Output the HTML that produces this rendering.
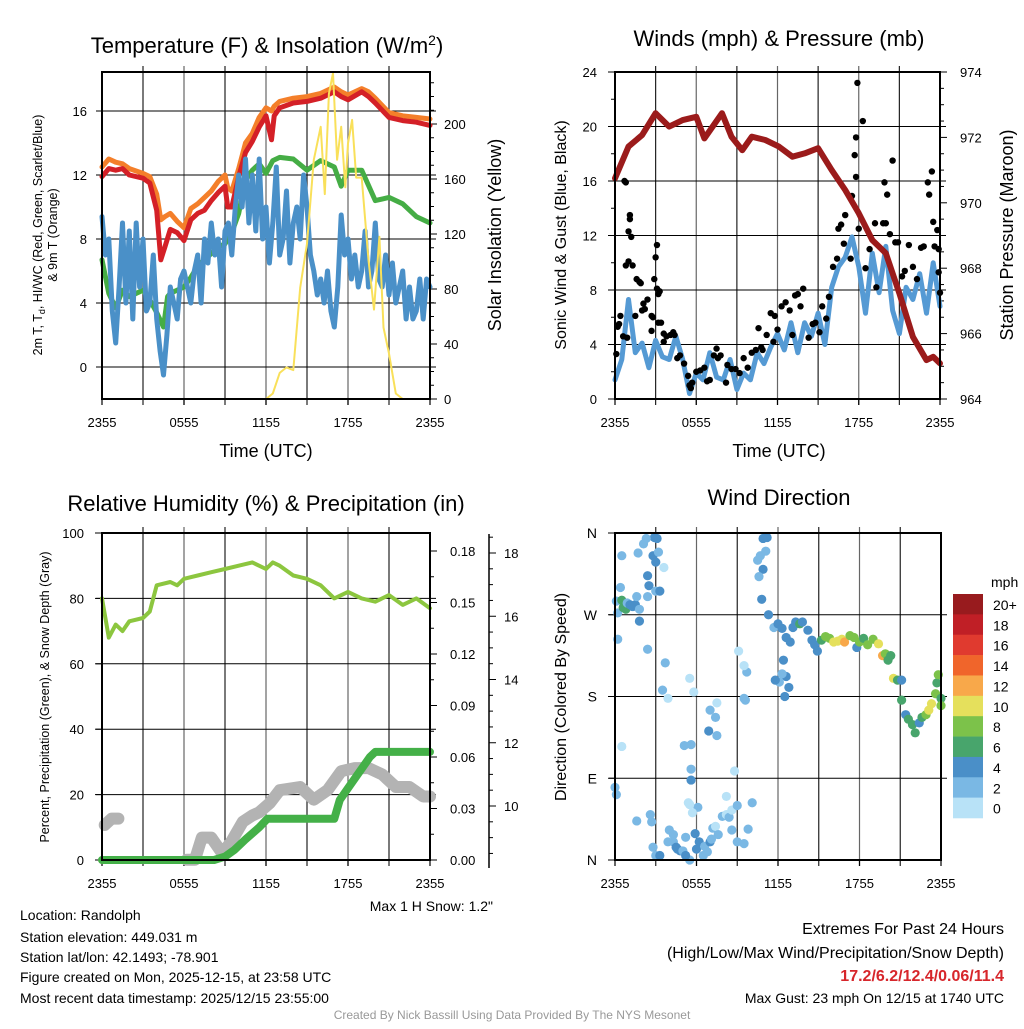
<!DOCTYPE html>
<html><head><meta charset="utf-8">
<style>
html,body{margin:0;padding:0;background:#fff;}
svg text{font-family:"Liberation Sans",Arial,sans-serif;fill:#000;}
</style></head>
<body>
<svg id="chart" xmlns="http://www.w3.org/2000/svg" width="1024" height="1024" viewBox="0 0 1024 1024">
<rect width="1024" height="1024" fill="#fff"/>
<g id="layer"></g>
<g font-size="14">
<text x="20" y="920">Location: Randolph</text>
<text x="20" y="942">Station elevation: 449.031 m</text>
<text x="20" y="962">Station lat/lon: 42.1493; -78.901</text>
<text x="20" y="982">Figure created on Mon, 2025-12-15, at 23:58 UTC</text>
<text x="20" y="1003">Most recent data timestamp: 2025/12/15 23:55:00</text>
<text x="1004" y="934" text-anchor="end" font-size="16">Extremes For Past 24 Hours</text>
<text x="1004" y="958" text-anchor="end" font-size="16">(High/Low/Max Wind/Precipitation/Snow Depth)</text>
<text x="1004" y="981" text-anchor="end" font-size="16" font-weight="bold" style="fill:#d7262b">17.2/6.2/12.4/0.06/11.4</text>
<text x="1004" y="1003" text-anchor="end">Max Gust: 23 mph On 12/15 at 1740 UTC</text>
<text x="512" y="1019" text-anchor="middle" font-size="12" style="fill:#999">Created By Nick Bassill Using Data Provided By The NYS Mesonet</text>
<text x="493" y="911" text-anchor="end" font-size="14">Max 1 H Snow: 1.2"</text>
</g>
</svg>
<script>
// ---------- DATA ----------
const xTickLabels = ["2355","0555","1155","1755","2355"];
const tempHours = [0,0.5,1,1.5,2,3,3.5,4,4.3,4.6,5,5.5,6,6.5,7,7.5,8,8.5,9,9.2,9.5,10,10.5,11,11.5,12,12.4,12.6,13,14,15,16,17,17.5,18,19,19.5,20,21,22,23,24];
const redTemp = [11.9,12.4,12.3,12.4,12.0,11.8,11.5,9.8,6.7,7.5,8.6,8.4,7.9,9.2,9.6,9.8,10.4,10.9,11.3,10.0,10.0,11.9,13.4,14.1,15.0,15.7,14.2,15.7,16.2,16.5,16.6,16.8,17.2,16.9,16.7,17.2,16.9,16.5,15.6,15.4,15.3,15.1];
const orangeTemp = [12.5,13.0,12.8,12.7,12.4,12.1,11.9,10.8,9.2,9.4,9.6,9.1,8.7,9.9,10.2,10.6,11.0,11.6,12.0,11.2,11.0,12.4,14.0,14.6,15.6,16.2,16.0,16.3,16.6,16.8,16.9,17.1,17.5,17.2,17.0,17.4,17.2,16.8,15.9,15.7,15.6,15.5];
const greenHours = [0,0.5,1,1.5,2,3,3.5,4,4.5,4.8,5,6,6.5,7,7.5,8,8.5,9,9.5,10,10.5,11,11.5,12,12.5,13,14,15,16,17,17.5,18,19,20,21,22,23,24];
const greenTemp = [6.7,4.6,3.7,4.8,4.4,4.8,4.2,3.4,2.5,4.4,4.6,5.0,5.6,6.3,6.7,7.1,7.5,7.7,8.4,9.6,11.7,12.3,12.7,12.1,12.9,13.1,13.0,12.3,12.9,12.5,11.3,12.3,12.3,10.4,10.6,10.2,9.4,9.0];
const blueTemp = [9.4,7,8,3.5, 1.5,5,9,4, 8.5,3,9,5, 8,3.5,4,7, 3,1,-0.5,2, 5,4,3,5.5, 6,5,4,6, 7,4,8,6.5, 9,7,8,5, 8.5,9,7,10, 12,10,13,9, 12,8.5,13,8, 10,6.5,9,12.5, 7,8,11,6.5, 9,10,8,12, 10,7,6,4.5, 5.5,4,6,3.5, 2.5,5,9.5,7, 8,5.5,7,5, 6,8.5,5,6, 9,5.5,5,7, 4.5,6.5,4,5, 6,3,5,3, 3.5,5.5,3,5.5, 5];
const solarHours = [0,12,12.5,13,13.5,14,14.5,15,15.5,16,16.3,16.6,16.9,17.2,17.5,17.8,18,18.3,18.6,19,19.5,19.9,20.3,20.6,21,21.5,22,24];
const solarValues = [0,0,4,19,23,21,81,113,174,198,149,222,237,174,198,154,186,203,161,161,101,65,118,52,33,4,0,0];

const pressHours = [0,1,2,3,4,5,6,6.6,7.9,8.6,9.4,10.1,11.1,12.1,13.1,14,15,16,17,18,19,20,21,22,23,23.5,24];
const pressValues = [970.75,971.72,972.07,972.74,972.33,972.53,972.63,971.97,972.74,972.02,971.61,972.02,971.92,971.72,971.41,971.51,971.67,971.0,970.39,969.68,968.86,968.46,967.23,965.9,965.19,965.29,965.09];
const windSpeed = [1.4,2.9,7.3,3.4,4.1,2.3,4.3,3.1,2.9,4.6,2.9,0.4,1.9,1.4,3.4,1.6,1.4,2.9,0.7,1.9,1.4,3.4,2.6,3.8,4.8,3.6,5.6,3.4,5.6,4.6,6.3,4.0,8.2,9.7,10.4,11.9,9.7,6.3,10.7,7.8,11.2,6.5,4.8,8.2,7.3,9.2,6.3,10.0,6.8];
const gustHours = [0.1,0.2,0.3,0.4,0.7,0.8,0.6,0.9,1.0,1.1,1.1,1.2,0.8,1.0,1.3,1.5,1.6,1.8,1.9,2.0,2.1,2.2,2.4,2.7,2.8,2.7,2.9,3.0,3.1,3.1,3.2,3.3,3.2,3.4,3.6,3.6,3.8,4.1,4.3,4.4,4.6,4.8,5.1,5.4,5.5,5.6,5.7,6.0,6.3,6.6,6.8,7.0,7.3,7.5,7.6,7.8,8.2,8.3,8.6,8.9,9.2,9.5,9.8,10.1,10.4,10.6,10.8,10.9,11.2,11.5,11.7,11.8,12.0,12.3,12.6,12.9,13.1,13.3,13.5,13.7,13.9,14.3,14.6,14.8,15.1,15.3,15.6,15.8,16.1,16.4,16.5,16.7,16.9,17.0,17.4,17.5,17.7,17.8,17.8,17.9,18.0,18.3,18.5,18.8,19.2,19.3,19.8,20.0,19.9,20.1,20.3,20.5,20.7,20.9,21.2,21.4,21.7,22.0,22.3,22.6,22.8,23.1,23.2,23.4,23.5,23.6,23.8,23.9,23.9,24.0];
const gustValues = [3.3,5.3,5.5,6.1,16,15.9,4.6,4.5,12.3,13.2,13.5,11.9,9.8,10.1,9.8,6.1,8.8,8.6,8.5,6.5,7.0,6.6,7.3,6.1,6.0,5.0,8.8,10.4,11.3,8.1,7.7,7.9,5.6,5.6,4.2,4.8,4.6,4.7,4.9,4.7,3.0,3.2,2.6,1.7,1.0,0.8,1.2,2.0,2.1,2.3,1.3,1.4,3.2,3.7,3.0,3.2,1.2,2.5,2.2,2.2,1.9,3.0,2.3,3.4,3.6,5.2,3.8,3.6,4.7,6.3,4.2,6.1,5.1,6.8,7.1,6.5,4.7,7.6,7.7,6.8,8.1,4.5,5.5,5.6,4.9,6.8,5.9,7.5,9.7,10.3,12.5,12.8,11.4,13.5,10.3,14.9,17.9,19.2,16.3,23.2,12.5,20.4,9.6,11.0,12.9,8.2,12.9,12.9,15.9,15.0,12.1,17.5,11.5,11.5,9.0,9.4,11.3,9.7,8.8,11.1,11.2,15.9,15.0,16.7,13.0,11.2,12.4,9.3,11.0,7.8];

const rhHours = [0,0.5,1,1.5,2,3,3.5,4,5,5.5,6,7,8,9,10,11,12,12.5,13,14,15,16,17,18,19,20,21,22,23,24];
const rhValues = [80,68,72,70,73,74,76,84,85,84,86,87,88,89,90,91,89,91,90,87,86,84,80,82,80,79,81,78,80,77];
const precipHours = [0,8.2,9.0,9.7,10.5,11.5,12.1,17.0,17.4,18.1,18.9,19.6,20.0,24];
const precipValues = [0,0,0.002,0.006,0.012,0.019,0.024,0.024,0.035,0.043,0.052,0.060,0.063,0.063];
const snowSeg1Hours = [0.2,0.7,1.2];
const snowSeg1Values = [9.4,9.6,9.6];
const snowSeg2Hours = [6.2,6.8,7.3,8.0,8.8,9.5,10.3,11.0,11.5,12.3,13.0,14.5,15.5,16.5,17.5,18.5,19.5,20.5,21.5,22.5,23.5,24];
const snowSeg2Values = [8.3,8.3,9.0,9.0,8.5,8.9,9.5,9.7,9.8,10.1,10.5,10.6,10.2,10.5,11.1,11.2,11.2,11.0,10.6,10.6,10.3,10.3];

const dirHours = [0.1,0.2,0.4,0.5,0.6,0.8,0.9,1.1,1.3,1.5,1.6,1.8,2.4,1.8,0.2,0.5,1.7,2.8,3.0,3.2,2.9,3.1,2.3,2.1,2.4,2.5,3.0,3.3,3.6,2.4,3.7,0.5,0,0.1,1.6,2.6,2.7,2.8,3.0,3.3,4.0,4.3,4.5,4.6,4.8,5.0,5.2,5.5,5.2,3.9,4.3,5.9,6.0,6.2,6.5,6.6,6.8,7.0,7.2,7.4,7.6,7.9,8.2,8.4,8.6,8.6,9.0,9.8,9.5,9.0,10.1,7.1,6.1,5.7,5.4,5.5,5.6,5.1,5.6,5.6,8.8,8.2,7.0,7.5,7.4,7.5,6.9,9.1,9.5,9.6,3.5,3.9,5.5,5.8,10.5,10.7,10.9,11.2,11.1,10.9,10.6,10.8,11.3,11.7,12.0,12.3,12.6,12.9,13.1,13.3,13.6,13.8,14.2,14.5,14.7,14.9,15.2,15.5,15.8,16.1,16.4,16.7,16.9,17.3,17.6,17.8,18.0,18.3,18.6,19.0,19.4,19.7,19.9,20.1,20.3,20.5,20.8,21.1,21.1,21.4,21.6,21.9,22.1,22.4,22.6,22.9,23.1,23.3,23.6,23.7,23.8,24,24,12.4,12.8,12.6,12.5,12.1,12.3,11.8,9.7,9.5];
const dirDegrees = [285,272,300,286,278,276,283,281,279,281,290,276,290,263,243,335,338,335,328,339,355,354,354,348,313,302,296,296,322,232,217,125,80,72,43,50,42,14,5,5,33,20,14,12,10,10,25,0,5,20,28,29,12,20,5,15,9,20,35,37,28,48,50,47,55,33,60,34,18,20,63,23,58,52,63,61,127,126,88,100,98,70,165,173,157,137,142,230,178,176,187,178,200,185,330,335,354,355,340,320,312,287,270,256,260,255,245,240,256,262,260,262,253,242,237,230,242,246,244,240,241,243,240,247,245,234,240,244,237,243,238,225,227,220,225,200,198,198,176,160,155,149,140,151,157,160,165,172,183,195,204,178,170,220,190,202,180,196,205,198,207,214];
const dirSpeeds = [3,3,3,6,6,6,3,4,4,4,3,3,3,5,3,3,3,5,5,3,5,5,2,3,5,5,3,5,1,3,2,1,2,3,3,3,3,3,3,4,3,3,4,5,5,3,2,2,4,3,3,4,5,4,3,2,3,4,3,1,2,3,1,3,1,3,3,2,3,3,3,2,3,1,1,1,3,2,4,3,1,1,2,1,2,3,4,1,2,2,2,1,1,1,3,3,4,4,3,5,3,5,4,3,4,4,5,4,4,4,6,4,4,4,4,4,6,8,8,10,10,10,13,8,8,4,8,6,8,8,10,12,8,6,6,10,6,4,6,4,6,6,6,4,6,8,10,10,8,6,8,6,8,5,4,5,5,3,3,5,3,1];
const legendLabels = ["20+","18","16","14","12","10","8","6","4","2","0"];
const speedColors = ["#981b1e","#c01f26","#e03a2f","#f0652b","#f8a84a","#e5e05c","#7cc24a","#48a56c","#4a8fc8","#7ab8e4","#b8e2f7"];

// ---------- DRAWING ----------
const NS = "http://www.w3.org/2000/svg";
const layer = document.getElementById("layer");
function mk(tag, attrs, parent){ const e=document.createElementNS(NS,tag); for(const k in attrs) e.setAttribute(k,attrs[k]); (parent||layer).appendChild(e); return e; }
function scale(d0,d1,r0,r1){ return v => r0 + (v-d0)*(r1-r0)/(d1-d0); }
function pathOf(xs, ys, sx, sy){ return xs.map((x,i)=>(i?"L":"M")+sx(x).toFixed(1)+","+sy(ys[i]).toFixed(1)).join(""); }

function frame(x0,y0,x1,y1,name){
  const g = mk("g",{});
  
  
  for(let h=3; h<24; h+=3){
    const x = x0 + (x1-x0)*h/24;
    const l = mk("line",{x1:x,x2:x,y1:y0-6,y2:y1+6,stroke:(h%6===0?"#666":"#222"),"stroke-width":1.2},g);
    
    
  }
  xTickLabels.forEach((t,i)=>{
    const x = x0 + (x1-x0)*i/4;
    mk("line",{x1:x,x2:x,y1:y1,y2:y1+6,stroke:"#000","stroke-width":1.2},g);
    const tx = mk("text",{x:x,y:y1+28,"text-anchor":"middle","font-size":13},g);
    tx.textContent = t;
    
    
  });
  return g;
}
function hgrid(g,x0,x1,y){ const l=mk("line",{x1:x0-6,x2:x1+6,y1:y,y2:y,stroke:"#000","stroke-width":1},g);
  
   }
function border(g,x0,y0,x1,y1){ const r=mk("rect",{x:x0,y:y0,width:x1-x0,height:y1-y0,fill:"none",stroke:"#000","stroke-width":2},g);
  
   }
function label(g,x,y,txt,size,anchor,rot,name){
  const t = mk("text",{x:x,y:y,"font-size":size,"text-anchor":anchor||"middle"},g);
  if(rot) t.setAttribute("transform","rotate("+rot+" "+x+" "+y+")");
  t.textContent = txt;
  
  
  return t;
}
function series(g,d,color,w,name,extra){
  const p = mk("path",Object.assign({d:d,fill:"none",stroke:color,"stroke-width":w,"stroke-linejoin":"round","stroke-linecap":"round"},extra||{}),g);
  
  
  return p;
}

// ===== Panel 1 =====
(function(){
  const X0=102,X1=430,Y0=72,Y1=399;
  const sx = scale(0,24,X0,X1);
  const sy = scale(0,16,367,111);
  const sr = scale(0,200,399,124);
  const g = frame(X0,Y0,X1,Y1,"temperature-panel");
  [0,4,8,12,16].forEach(v=>{ hgrid(g,X0,X1,sy(v)); label(g,X0-15,sy(v)+5,String(v),13,"end",0,"y-tick-label"); });
  for(let v=0; v<=230; v+=10){ const y=sr(v); mk("line",{x1:X1,x2:X1+(v%40===0?7:4),y1:y,y2:y,stroke:"#000","stroke-width":1},g); }
  [0,40,80,120,160,200].forEach(v=>label(g,X1+14,sr(v)+5,String(v),13,"start",0,"right-tick-label"));
  const bh = blueTemp.map((_,i)=>i*0.25);
  series(g,pathOf(tempHours,orangeTemp,sx,sy),"#f47f2a",5,"orange-9m-temp-line");
  series(g,pathOf(tempHours,redTemp,sx,sy),"#d42027",5,"red-2m-temp-line");
  series(g,pathOf(greenHours,greenTemp,sx,sy),"#45ad45",5,"green-dewpoint-line");
  series(g,pathOf(bh,blueTemp,sx,sy),"#4a90c8",5,"blue-windchill-line");
  series(g,pathOf(solarHours,solarValues,sx,sr),"#f9e05a",2,"yellow-insolation-line");
  border(g,X0,Y0,X1,Y1);
  const t = label(g,267,53,"",22,"middle",0,"temperature-panel-title");
  t.innerHTML = 'Temperature (F) &amp; Insolation (W/m<tspan dy="-8" font-size="14">2</tspan><tspan dy="8">)</tspan>';
  label(g,266,457,"Time (UTC)",18,"middle",0,"x-axis-title");
  const yl = label(g,42,235,"",12.5,"middle",-90,"left-y-axis-title");
  yl.innerHTML = '2m T, T<tspan dy="3" font-size="9">d</tspan><tspan dy="-3">, HI/WC (Red, Green, Scarlet/Blue)</tspan>';
  label(g,57,235,"& 9m T (Orange)",12.5,"middle",-90,"left-y-axis-title-2");
  label(g,501,235,"Solar Insolation (Yellow)",18,"middle",-90,"right-y-axis-title");
})();

// ===== Panel 2 =====
(function(){
  const X0=615,X1=940,Y0=72,Y1=399;
  const sx = scale(0,24,X0,X1);
  const sy = scale(0,24,399,72);
  const sp = scale(964,974,399,72);
  const g = frame(X0,Y0,X1,Y1,"winds-panel");
  [0,4,8,12,16,20,24].forEach(v=>{ if(v>0&&v<24) hgrid(g,X0,X1,sy(v)); mk("line",{x1:X0-7,x2:X0,y1:sy(v),y2:sy(v),stroke:"#000"},g); label(g,X0-18,sy(v)+5,String(v),13,"end",0,"y-tick-label"); });
  for(let v=0; v<=24; v+=2){ mk("line",{x1:X0-4,x2:X0,y1:sy(v),y2:sy(v),stroke:"#000"},g); }
  for(let v=964; v<=974; v+=0.5){ const y=sp(v); mk("line",{x1:X1,x2:X1+(v%2===0?7:4),y1:y,y2:y,stroke:"#000"},g); }
  [964,966,968,970,972,974].forEach(v=>label(g,X1+20,sp(v)+5,String(v),13,"start",0,"right-tick-label"));
  const wh = windSpeed.map((_,i)=>i*0.5);
  series(g,pathOf(wh,windSpeed,sx,sy),"#559ad4",5,"sonic-wind-line");
  gustHours.forEach((h,i)=>{
    const c = mk("circle",{cx:sx(h),cy:sy(gustValues[i]),r:3.2,fill:"#000"},g);
    
    
  });
  series(g,pathOf(pressHours,pressValues,sx,sp),"#9b1b1b",6,"pressure-line");
  border(g,X0,Y0,X1,Y1);
  label(g,779,46,"Winds (mph) & Pressure (mb)",22,"middle",0,"winds-panel-title");
  label(g,779,457,"Time (UTC)",18,"middle",0,"x-axis-title");
  label(g,566,235,"Sonic Wind & Gust (Blue, Black)",16,"middle",-90,"left-y-axis-title");
  label(g,1013,235,"Station Pressure (Maroon)",18,"middle",-90,"right-y-axis-title");
})();

// ===== Panel 3 =====
(function(){
  const X0=102,X1=430,Y0=533,Y1=860;
  const sx = scale(0,24,X0,X1);
  const sy = scale(0,100,860,533);
  const spr = scale(0,0.18,860,551);
  const ss = scale(10,18,806,553);
  const g = frame(X0,Y0,X1,Y1,"humidity-panel");
  [0,20,40,60,80,100].forEach(v=>{ if(v>0&&v<100) hgrid(g,X0,X1,sy(v)); mk("line",{x1:X0-7,x2:X0,y1:sy(v),y2:sy(v),stroke:"#000"},g); label(g,X0-18,sy(v)+5,String(v),13,"end",0,"y-tick-label"); });
  for(let v=0; v<=0.19; v+=0.015){ const y=spr(v); mk("line",{x1:X1,x2:X1+(Math.round(v*1000)%30===0?7:4),y1:y,y2:y,stroke:"#000"},g); }
  ["0.00","0.03","0.06","0.09","0.12","0.15","0.18"].forEach(t=>label(g,X1+20,spr(parseFloat(t))+5,t,13,"start",0,"precip-tick-label"));
  const sa = mk("line",{x1:489,x2:489,y1:534,y2:868,stroke:"#000","stroke-width":1.5},g);
  
  
  for(let v=8.5; v<=19; v+=0.5){ const y=ss(v); if(y<534||y>868) continue; mk("line",{x1:489,x2:489+(v%2===0?7:4),y1:y,y2:y,stroke:"#000"},g); }
  [10,12,14,16,18].forEach(v=>label(g,504,ss(v)+5,String(v),13,"start",0,"snow-tick-label"));
  series(g,pathOf(snowSeg1Hours,snowSeg1Values,sx,ss),"#b3b3b3",12,"snow-depth-line-1");
  series(g,pathOf(snowSeg2Hours,snowSeg2Values,sx,ss),"#b3b3b3",12,"snow-depth-line-2");
  series(g,pathOf(rhHours,rhValues,sx,sy),"#8cc63f",4,"relative-humidity-line");
  series(g,pathOf(precipHours,precipValues,sx,spr),"#44b048",8,"precipitation-line");
  border(g,X0,Y0,X1,Y1);
  label(g,266,511,"Relative Humidity (%) & Precipitation (in)",22,"middle",0,"humidity-panel-title");
  label(g,49,697,"Percent, Precipitation (Green), & Snow Depth (Gray)",12.5,"middle",-90,"left-y-axis-title");
})();

// ===== Panel 4 =====
(function(){
  const X0=615,X1=941,Y0=533,Y1=860;
  const sx = scale(0,24,X0,X1);
  const sy = scale(0,360,860,533);
  const g = frame(X0,Y0,X1,Y1,"wind-direction-panel");
  [["N",0],["E",90],["S",180],["W",270],["N",360]].forEach(([t,v])=>{ if(v>0&&v<360) hgrid(g,X0,X1,sy(v)); mk("line",{x1:X0-7,x2:X0,y1:sy(v),y2:sy(v),stroke:"#000"},g); label(g,X0-18,sy(v)+5,t,14,"end",0,"direction-tick-label"); });
  function colorFor(s){ const idx = Math.min(10, Math.floor(s/2)); return speedColors[10-idx]; }
  dirHours.forEach((h,i)=>{
    const c = mk("circle",{cx:sx(h),cy:sy(dirDegrees[i]),r:4.6,fill:colorFor(dirSpeeds[i])},g);
    
    
  });
  border(g,X0,Y0,X1,Y1);
  label(g,779,505,"Wind Direction",22,"middle",0,"wind-direction-title");
  label(g,566,697,"Direction (Colored By Speed)",16,"middle",-90,"left-y-axis-title");
  const lg = mk("g",{},g);
  
  
  const h = (818-594)/11;
  legendLabels.forEach((t,i)=>{
    const r = mk("rect",{x:953,y:594+i*h,width:30,height:h+0.3,fill:speedColors[i]},lg);
    
    
    label(lg,993,594+i*h+16,t,14,"start",0,"colorbar-label");
  });
  label(lg,991,587,"mph",14,"start",0,"colorbar-unit");
})();
</script>
</body></html>
